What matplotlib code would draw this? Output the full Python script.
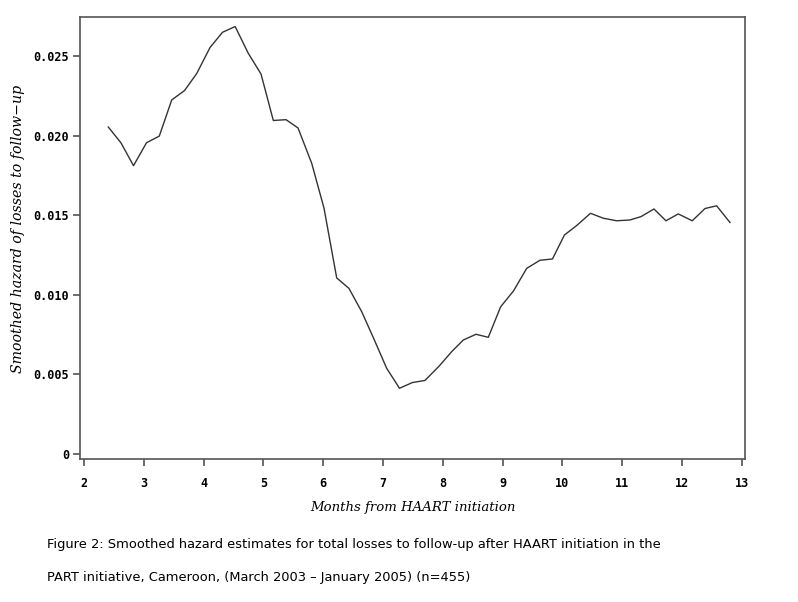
import matplotlib
matplotlib.use("Agg")
import matplotlib.pyplot as plt

# smoothed hazard curve
months = [2.406, 2.619, 2.828, 3.045, 3.259, 3.467, 3.681, 3.885, 4.107, 4.316,
          4.528, 4.747, 4.960, 5.166, 5.378, 5.579, 5.808, 6.013, 6.226, 6.431,
          6.644, 6.849, 7.062, 7.276, 7.493, 7.702, 7.941, 8.149, 8.343, 8.555,
          8.761, 8.968, 9.182, 9.403, 9.625, 9.834, 10.035, 10.239, 10.470, 10.684,
          10.908, 11.130, 11.314, 11.532, 11.732, 11.938, 12.172, 12.385, 12.580, 12.803]
hazard = [0.02054, 0.01954, 0.01811, 0.01955, 0.01997, 0.02224, 0.02283, 0.02390, 0.02553, 0.02649,
          0.02685, 0.02517, 0.02387, 0.02095, 0.02100, 0.02048, 0.01826, 0.01545, 0.01106, 0.01040,
          0.00894, 0.00722, 0.00538, 0.00413, 0.00449, 0.00462, 0.00553, 0.00643, 0.00716, 0.00752,
          0.00733, 0.00925, 0.01024, 0.01166, 0.01217, 0.01225, 0.01376, 0.01435, 0.01512, 0.01481,
          0.01465, 0.01470, 0.01491, 0.01539, 0.01465, 0.01508, 0.01465, 0.01542, 0.01559, 0.01454]

x_ticks = list(range(2, 14))
y_ticks = [0, 0.005, 0.010, 0.015, 0.020, 0.025]
y_ticklabels = ["0", "0.005", "0.010", "0.015", "0.020", "0.025"]

caption = ("Figure 2: Smoothed hazard estimates for total losses to follow-up after HAART initiation in the\n"
           "\n"
           "PART initiative, Cameroon, (March 2003 \u2013 January 2005) (n=455)")

fig = plt.figure(figsize=(7.98, 6.02), dpi=100)
ax = fig.add_axes([80 / 798, 1 - 459 / 602, 665 / 798, 442 / 602])

ax.plot(months, hazard, color="#333333", linewidth=1.0)

ax.set_xlim(1.933, 13.054)
ax.set_ylim(-0.000314, 0.02745)
ax.set_xticks(x_ticks)
ax.set_yticks(y_ticks)
ax.set_yticklabels(y_ticklabels)

for lab in ax.get_xticklabels() + ax.get_yticklabels():
    lab.set_fontfamily("DejaVu Sans Mono")
    lab.set_fontweight("bold")
    lab.set_fontsize(8.5)

for sp in ax.spines.values():
    sp.set_color("#555555")
    sp.set_linewidth(1.2)
ax.tick_params(axis="both", colors="#444444", labelcolor="black", width=1.1, length=5)
ax.tick_params(axis="x", pad=8)
ax.tick_params(axis="y", pad=3)

ax.set_xlabel("Months from HAART initiation", family="DejaVu Serif", style="italic",
              fontsize=9.5, labelpad=8)
ax.set_ylabel("Smoothed hazard of losses to follow\u2212up", family="DejaVu Serif",
              style="italic", fontsize=10.2)
ax.yaxis.set_label_coords(-0.082, 0.52)

fig.text(47 / 798, 1 - 538 / 602, caption, family="DejaVu Sans", fontsize=9.4,
         va="top", ha="left", linespacing=1.33)

fig.savefig("out.png", dpi=100)
